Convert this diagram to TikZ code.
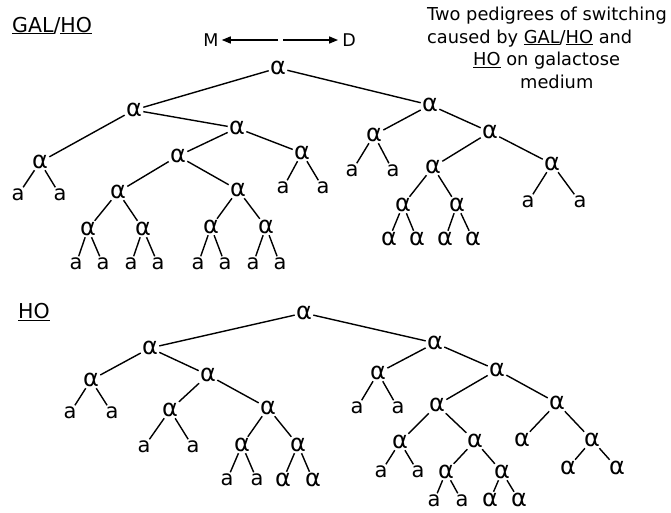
\documentclass[tikz,border=0pt]{standalone}
\usepackage{fontspec}
\setmainfont{DejaVu Sans}
\usetikzlibrary{arrows.meta}
\tikzset{
  al/.style={font=\fontsize{24}{24}\selectfont, inner sep=1.2pt},
  lf/.style={font=\fontsize{21}{21}\selectfont, inner sep=1.5pt},
  edge/.style={line width=1.4pt},
  lbl/.style={font=\fontsize{17.8}{17.8}\selectfont, inner sep=0pt, anchor=base west},
  ttl/.style={font=\fontsize{20.5}{20.5}\selectfont, inner sep=0pt, anchor=base west},
  arr/.style={line width=1.4pt, -{Triangle[length=9pt,width=7pt]}}
}
\begin{document}
\begin{tikzpicture}[x=1pt,y=-1pt]
\useasboundingbox (0,0) rectangle (671,512);
% labels
\node[ttl] (gal) at (12,32) {\underline{GAL}/\underline{HO}};
\node[ttl] (ho) at (18,318.5) {\underline{HO}};
\node[lbl] (c1) at (427,20.5) {Two pedigrees of switching};
\node[lbl] (c2) at (427,43) {caused by \underline{GAL}/\underline{HO} and};
\node[lbl] (c3) at (473,65.5) {\underline{HO} on galactose};
\node[lbl] (c4) at (520,88) {medium};
\node[font=\fontsize{17.5}{17.5}\selectfont, inner sep=3pt] (M) at (211,40) {M};
\node[font=\fontsize{17.5}{17.5}\selectfont, inner sep=4pt] (D) at (349,40) {D};
\coordinate (ml) at (278,40);
\coordinate (mr) at (283,40);
\draw[arr] (ml) -- (M);
\draw[arr] (mr) -- (D);
% top tree
\node[al] (T0) at (278,68) {α};
\node[al] (T1) at (134,110) {α};
\node[al] (T2) at (430,105) {α};
\node[al] (T11) at (40,162) {α};
\node[al] (T12) at (237,128) {α};
\node[lf] (T111) at (18,195) {a};
\node[lf] (T112) at (60,195) {a};
\node[al] (T121) at (178,156) {α};
\node[al] (T122) at (302,153) {α};
\node[lf] (T1221) at (283,188) {a};
\node[lf] (T1222) at (323,188) {a};
\node[al] (T1211) at (118,192) {α};
\node[al] (T1212) at (238,190) {α};
\node[al] (T12111) at (88,229) {α};
\node[al] (T12112) at (143,229) {α};
\node[lf] (Ta1) at (76,264) {a};
\node[lf] (Ta2) at (103,264) {a};
\node[lf] (Ta3) at (131,264) {a};
\node[lf] (Ta4) at (158,264) {a};
\node[al] (T12121) at (211,227) {α};
\node[al] (T12122) at (266,227) {α};
\node[lf] (Ta5) at (198,264) {a};
\node[lf] (Ta6) at (225,264) {a};
\node[lf] (Ta7) at (253,264) {a};
\node[lf] (Ta8) at (280,264) {a};
\node[al] (T21) at (374,135) {α};
\node[al] (T22) at (490,132) {α};
\node[lf] (T211) at (352,171) {a};
\node[lf] (T212) at (393,171) {a};
\node[al] (T221) at (433,167) {α};
\node[al] (T222) at (552,164) {α};
\node[lf] (T2221) at (528,202) {a};
\node[lf] (T2222) at (580,202) {a};
\node[al] (T2211) at (403,205) {α};
\node[al] (T2212) at (457,205) {α};
\node[al] (Tb1) at (389,239) {α};
\node[al] (Tb2) at (417,239) {α};
\node[al] (Tb3) at (445,239) {α};
\node[al] (Tb4) at (473,239) {α};
\draw[edge] (T0)--(T1) (T0)--(T2) (T1)--(T11) (T1)--(T12)
  (T11)--(T111) (T11)--(T112) (T12)--(T121) (T12)--(T122)
  (T122)--(T1221) (T122)--(T1222) (T121)--(T1211) (T121)--(T1212)
  (T1211)--(T12111) (T1211)--(T12112) (T12111)--(Ta1) (T12111)--(Ta2)
  (T12112)--(Ta3) (T12112)--(Ta4) (T1212)--(T12121) (T1212)--(T12122)
  (T12121)--(Ta5) (T12121)--(Ta6) (T12122)--(Ta7) (T12122)--(Ta8)
  (T2)--(T21) (T2)--(T22) (T21)--(T211) (T21)--(T212)
  (T22)--(T221) (T22)--(T222) (T222)--(T2221) (T222)--(T2222)
  (T221)--(T2211) (T221)--(T2212) (T2211)--(Tb1) (T2211)--(Tb2)
  (T2212)--(Tb3) (T2212)--(Tb4);
% bottom tree
\node[al] (B0) at (304,313) {α};
\node[al] (B1) at (150,348) {α};
\node[al] (B2) at (435,343) {α};
\node[al] (B11) at (91,380) {α};
\node[al] (B12) at (208,375) {α};
\node[lf] (B111) at (70,413) {a};
\node[lf] (B112) at (112,413) {a};
\node[al] (B121) at (170,410) {α};
\node[al] (B122) at (268,408) {α};
\node[lf] (B1211) at (144,447) {a};
\node[lf] (B1212) at (193,447) {a};
\node[al] (B1221) at (242,445) {α};
\node[al] (B1222) at (298,445) {α};
\node[lf] (B12211) at (227,480) {a};
\node[lf] (B12212) at (257,480) {a};
\node[al] (B12221) at (283,480) {α};
\node[al] (B12222) at (313,480) {α};
\node[al] (B21) at (378,373) {α};
\node[al] (B22) at (497,370) {α};
\node[lf] (B211) at (357,408) {a};
\node[lf] (B212) at (398,408) {a};
\node[al] (B221) at (437,405) {α};
\node[al] (B222) at (557,403) {α};
\node[al] (B2211) at (400,442) {α};
\node[al] (B2212) at (475,441) {α};
\node[lf] (B22111) at (381,472) {a};
\node[lf] (B22112) at (418,472) {a};
\node[al] (B22121) at (446,472) {α};
\node[al] (B22122) at (502,472) {α};
\node[lf] (B221211) at (434,501) {a};
\node[lf] (B221212) at (462,501) {a};
\node[al] (B221221) at (490,500) {α};
\node[al] (B221222) at (519,500) {α};
\node[al] (B2221) at (522,440) {α};
\node[al] (B2222) at (592,440) {α};
\node[al] (B22221) at (568,468) {α};
\node[al] (B22222) at (617,468) {α};
\draw[edge] (B0)--(B1) (B0)--(B2) (B1)--(B11) (B1)--(B12)
  (B11)--(B111) (B11)--(B112) (B12)--(B121) (B12)--(B122)
  (B121)--(B1211) (B121)--(B1212) (B122)--(B1221) (B122)--(B1222)
  (B1221)--(B12211) (B1221)--(B12212) (B1222)--(B12221) (B1222)--(B12222)
  (B2)--(B21) (B2)--(B22) (B21)--(B211) (B21)--(B212)
  (B22)--(B221) (B22)--(B222) (B221)--(B2211) (B221)--(B2212)
  (B2211)--(B22111) (B2211)--(B22112) (B2212)--(B22121) (B2212)--(B22122)
  (B22121)--(B221211) (B22121)--(B221212) (B22122)--(B221221) (B22122)--(B221222)
  (B222)--(B2221) (B222)--(B2222) (B2222)--(B22221) (B2222)--(B22222);
\end{tikzpicture}
\end{document}
